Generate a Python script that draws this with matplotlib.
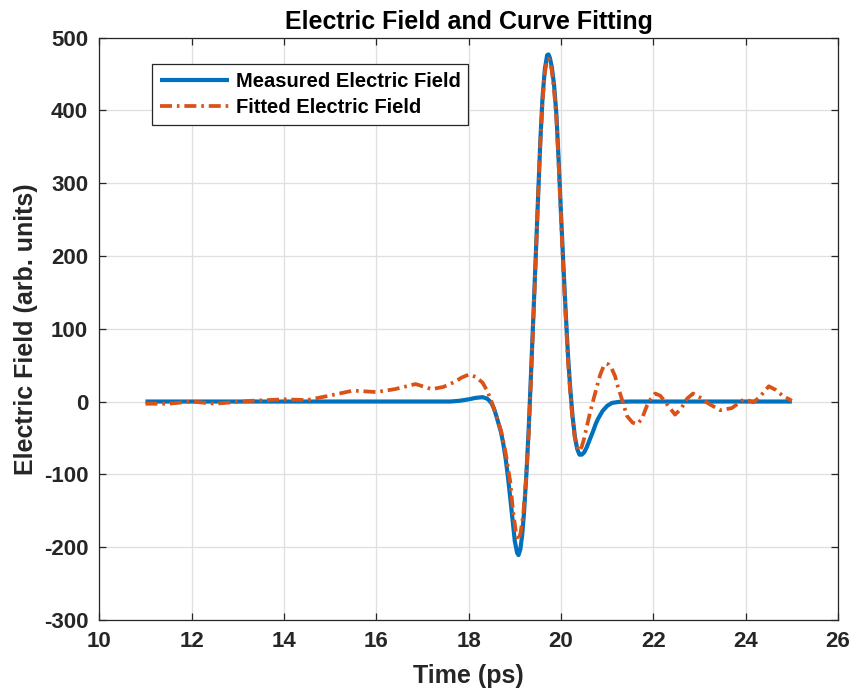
import matplotlib
matplotlib.use("Agg")
import matplotlib.pyplot as plt

plt.rcParams['font.family'] = ['Liberation Sans', 'DejaVu Sans']
plt.rcParams['font.weight'] = 'bold'
plt.rcParams['axes.unicode_minus'] = False

# Measured electric field
t_meas = [11.0, 12.0, 13.0, 14.0, 15.0, 16.0, 17.0, 17.6, 17.8, 18.0, 18.15, 18.3, 18.4,
          18.45, 18.5, 18.55, 18.6, 18.65, 18.7, 18.75, 18.8, 18.85, 18.9, 18.95, 19.0,
          19.05, 19.08, 19.12, 19.16, 19.2, 19.25, 19.3, 19.35, 19.4, 19.45, 19.5, 19.55,
          19.6, 19.65, 19.7, 19.73, 19.76, 19.8, 19.85, 19.9, 19.95, 20.0, 20.05, 20.1,
          20.15, 20.2, 20.25, 20.3, 20.35, 20.4, 20.45, 20.5, 20.55, 20.6, 20.65, 20.7,
          20.75, 20.8, 20.9, 21.0, 21.1, 21.25, 21.5, 22.0, 23.0, 24.0, 25.0]
e_meas = [0, 0, 0, 0, 0, 0, 0, 0, 1, 3, 5, 6, 4,
          1, -3, -10, -20, -31, -42, -58, -78, -103, -132, -162, -192,
          -208, -211, -203, -183, -152, -100, -38, 38, 115, 195, 275, 355,
          418, 457, 476, 477, 472, 460, 435, 395, 330, 258, 190, 125,
          65, 18, -20, -48, -65, -73, -73, -70, -64, -56, -48, -40,
          -31, -24, -13, -6, -2, -0.5, 0, 0, 0, 0, 0]

# Fitted electric field
t_fit = [11.0, 11.5, 12.0, 12.5, 13.3, 14.0, 14.5, 14.9, 15.2, 15.5, 16.0, 16.4, 16.85,
         17.2, 17.45, 17.7, 17.85, 18.0, 18.15, 18.3, 18.4, 18.5, 18.6, 18.7, 18.8, 18.9,
         18.96, 19.02, 19.07, 19.12, 19.18, 19.24, 19.3, 19.35, 19.4, 19.45, 19.5, 19.55,
         19.6, 19.65, 19.7, 19.73, 19.76, 19.8, 19.85, 19.9, 19.95, 20.0, 20.05, 20.1,
         20.15, 20.2, 20.25, 20.3, 20.35, 20.4, 20.45, 20.5, 20.56, 20.63, 20.7, 20.78,
         20.85, 20.92, 20.98, 21.03, 21.1, 21.17, 21.23, 21.3, 21.43, 21.55, 21.65, 21.75,
         21.86, 21.95, 22.04, 22.15, 22.3, 22.47, 22.6, 22.73, 22.86, 23.0, 23.2, 23.45,
         23.7, 23.85, 23.96, 24.08, 24.17, 24.3, 24.5, 24.65, 24.8, 25.0]
e_fit = [-3, -3, 0, -3, 1, 3, 2, 7, 11, 15, 13, 17, 24,
         17, 20, 27, 33, 37, 34, 26, 15, -1, -20, -40, -70, -110,
         -150, -178, -191, -182, -157, -110, -45, 30, 110, 190, 275, 352,
         413, 452, 470, 471, 466, 455, 428, 390, 325, 252, 182, 118,
         58, 12, -25, -50, -63, -68, -62, -51, -34, -15, 2, 21,
         37, 48, 52, 51, 45, 35, 21, 7, -20, -29, -31, -24,
         -6, 4, 11, 8, -4, -18, -10, 4, 11, 6, -3, -12,
         -9, -2, 3, 1, -1, 6, 21, 16, 8, 1]

fig = plt.figure(figsize=(8.56, 6.98), dpi=100)
ax = fig.add_axes([0.116, 0.112, 0.863, 0.834])

ax.plot(t_meas, e_meas, color='#0072BD', lw=3.0, label='Measured Electric Field',
        solid_capstyle='butt')
ax.plot(t_fit, e_fit, color='#D95319', lw=2.7, label='Fitted Electric Field',
        linestyle=(0, (3.2, 1.3, 0.7, 1.3)), dash_capstyle='butt')

ax.set_xlim(10, 26)
ax.set_ylim(-300, 500)
ax.set_xticks(range(10, 27, 2))
ax.set_yticks(range(-300, 501, 100))
ax.grid(True, color='#DFDFDF', lw=0.9)
ax.set_axisbelow(True)
for s in ax.spines.values():
    s.set_color('#262626')
    s.set_linewidth(0.9)
ax.tick_params(direction='in', top=True, right=True, length=5, width=0.9,
               colors='#262626', labelsize=16)
ax.tick_params(axis='x', pad=8)
ax.tick_params(axis='y', pad=8)
for lab in ax.get_xticklabels() + ax.get_yticklabels():
    lab.set_fontweight('bold')

ax.set_xlabel('Time (ps)', fontsize=18, fontweight='bold', color='#262626', labelpad=9)
ax.set_ylabel('Electric Field (arb. units)', fontsize=18, fontweight='bold',
              color='#262626', labelpad=4)
ax.set_title('Electric Field and Curve Fitting', fontsize=18, fontweight='bold',
             color='black', pad=6)

leg = ax.legend(loc='upper left', bbox_to_anchor=(0.072, 0.954), fontsize=14.5,
                frameon=True, fancybox=False, edgecolor='#262626', framealpha=1,
                handlelength=3.4, borderpad=0.38, labelspacing=0.35, handletextpad=0.35,
                borderaxespad=0)
leg.get_frame().set_linewidth(0.9)
for txt in leg.get_texts():
    txt.set_fontweight('bold')

fig.savefig('out.png', dpi=100)
